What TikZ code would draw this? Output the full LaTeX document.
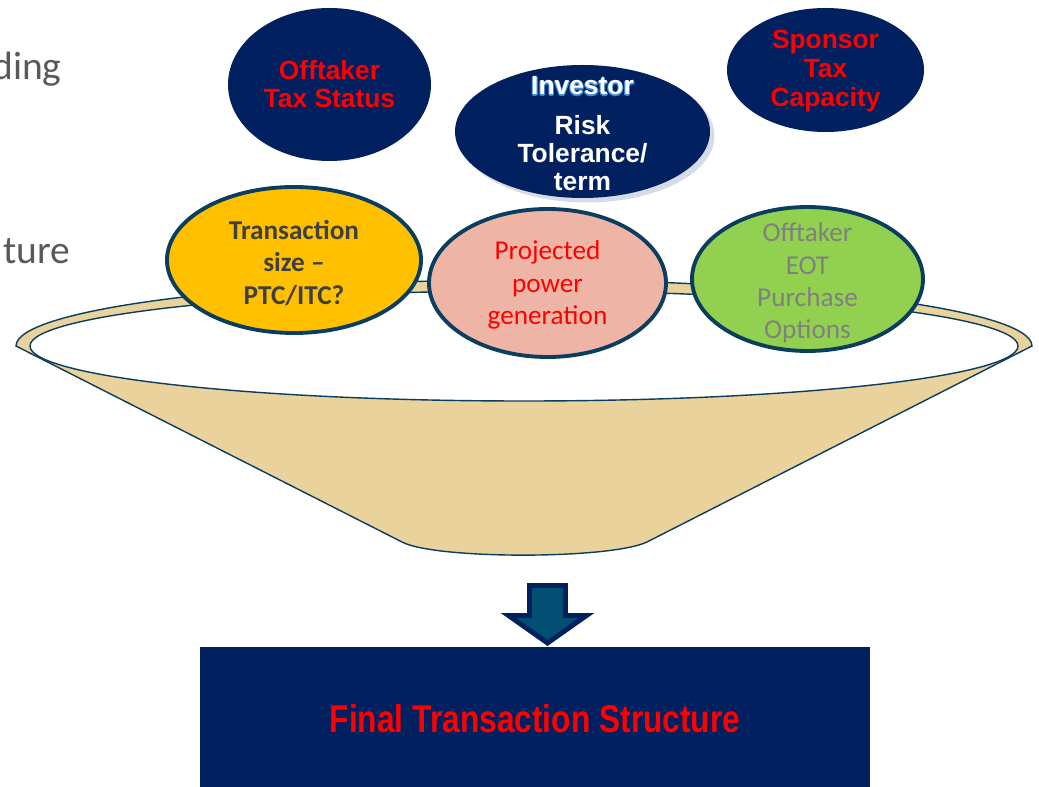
\documentclass[tikz,border=0pt]{standalone}
\usepackage{fontspec}
\setmainfont{Liberation Sans}
\newfontfamily\calibri{Carlito}
\newfontfamily\narrowfont[FakeStretch=0.82]{Liberation Sans}
\usetikzlibrary{shapes.geometric, shadows, positioning}

\definecolor{navy}{HTML}{002060}
\definecolor{gold}{HTML}{FFC000}
\definecolor{salmon}{HTML}{EEB4A6}
\definecolor{leaf}{HTML}{92D050}
\definecolor{tan}{HTML}{E9D29C}
\definecolor{rimblue}{HTML}{0B3D5E}
\definecolor{arrowteal}{HTML}{034E73}
\definecolor{shadowgray}{HTML}{D6DCE6}
\definecolor{glowblue}{HTML}{3D8BD8}
\definecolor{sidegray}{HTML}{595959}

% blue halo under a white word
\newcommand\glowword[1]{%
  \makebox[0pt][l]{\color{glowblue}\raisebox{-1pt}{#1}}%
  \makebox[0pt][l]{\color{glowblue}\hspace{0.6pt}\raisebox{-0.6pt}{#1}}%
  \makebox[0pt][l]{\color{glowblue}\hspace{-0.6pt}\raisebox{-0.6pt}{#1}}%
  #1}

\begin{document}
\begin{tikzpicture}
\tikzset{
  topoval/.style={ellipse, fill=navy, inner sep=0pt},
  rimoval/.style={ellipse, draw=rimblue, line width=2.2pt, inner sep=0pt},
  toptext/.style={align=center, font=\bfseries\fontsize{15pt}{16pt}\selectfont},
  rimtext/.style={align=center, yshift=-0.06cm, font=\calibri\fontsize{15.5pt}{18.4pt}\selectfont},
  funnelline/.style={draw=rimblue, line width=0.8pt}
}
\useasboundingbox (0,0) rectangle (20.78,-15.74);

% cut-off side text
\node[anchor=base east, text=sidegray, font=\calibri\fontsize{22.5pt}{27pt}\selectfont, inner sep=0pt] (side1) at (1.24,-1.60) {ding};
\node[anchor=base east, text=sidegray, font=\calibri\fontsize{22.5pt}{27pt}\selectfont, inner sep=0pt] (side2) at (1.42,-5.28) {ture};

% funnel
\draw[funnelline, fill=tan] (0.32,-6.92) arc[start angle=180, end angle=0, x radius=10.16, y radius=1.32]
  -- (12.94,-10.84) .. controls (12.2,-11.19) and (8.7,-11.19) .. (8.04,-10.84) -- cycle;
\draw[funnelline, fill=white] (10.48,-6.92) ellipse [x radius=9.88, y radius=1.10];

% ovals on the rim
\node[rimoval, fill=gold, minimum width=5.08cm, minimum height=2.92cm] (size) at (5.88,-5.20) {};
\node[rimoval, fill=salmon, minimum width=4.74cm, minimum height=2.96cm] (power) at (10.95,-5.66) {};
\node[rimoval, fill=leaf, minimum width=4.62cm, minimum height=2.88cm] (eot) at (16.15,-5.58) {};
\node[rimtext, font=\calibri\bfseries\fontsize{15.5pt}{18.4pt}\selectfont, text=black!75] (size-t) at (size) {Transaction\\size –\\PTC/ITC?};
\node[rimtext, yshift=0.02cm, text=red] (power-t) at (power) {Projected\\power\\generation};
\node[rimtext, yshift=-0.02cm, text=black!50] (eot-t) at (eot) {Offtaker\\EOT\\Purchase\\Options};

% ovals above
\node[topoval, minimum width=4.06cm, minimum height=3.06cm] (offtax) at (6.59,-1.69) {};
\node[topoval, minimum width=3.94cm, minimum height=2.48cm] (sponsor) at (16.51,-1.40) {};
\node[topoval, minimum width=5.10cm, minimum height=2.66cm,
  drop shadow={shadow xshift=0.09cm, shadow yshift=-0.09cm, fill=shadowgray, opacity=1}] (investor) at (11.65,-2.63) {};
\node[toptext, text=red] (offtax-t) at (offtax) {Offtaker\\Tax Status};
\node[toptext, text=red, font=\bfseries\fontsize{15pt}{16.6pt}\selectfont, yshift=-0.02cm] (sponsor-t) at (sponsor) {Sponsor\\Tax\\Capacity};
\node[toptext, text=white, yshift=-0.04cm] (investor-t) at (investor) {\glowword{Investor}\\[6.5pt]Risk\\Tolerance/\\term};

% down arrow and result
\draw[fill=arrowteal, draw=navy, line width=2.8pt, line join=miter]
  (10.59,-11.71) -- (11.31,-11.71) -- (11.31,-12.31) -- (11.73,-12.31)
  -- (10.95,-12.86) -- (10.17,-12.31) -- (10.59,-12.31) -- cycle;
\node[fill=navy, minimum width=13.4cm, minimum height=2.88cm, inner sep=0pt, text=red,
  font=\narrowfont\bfseries\fontsize{22pt}{26pt}\selectfont] (final) at (10.70,-14.38) {Final Transaction Structure};
\end{tikzpicture}
\end{document}
